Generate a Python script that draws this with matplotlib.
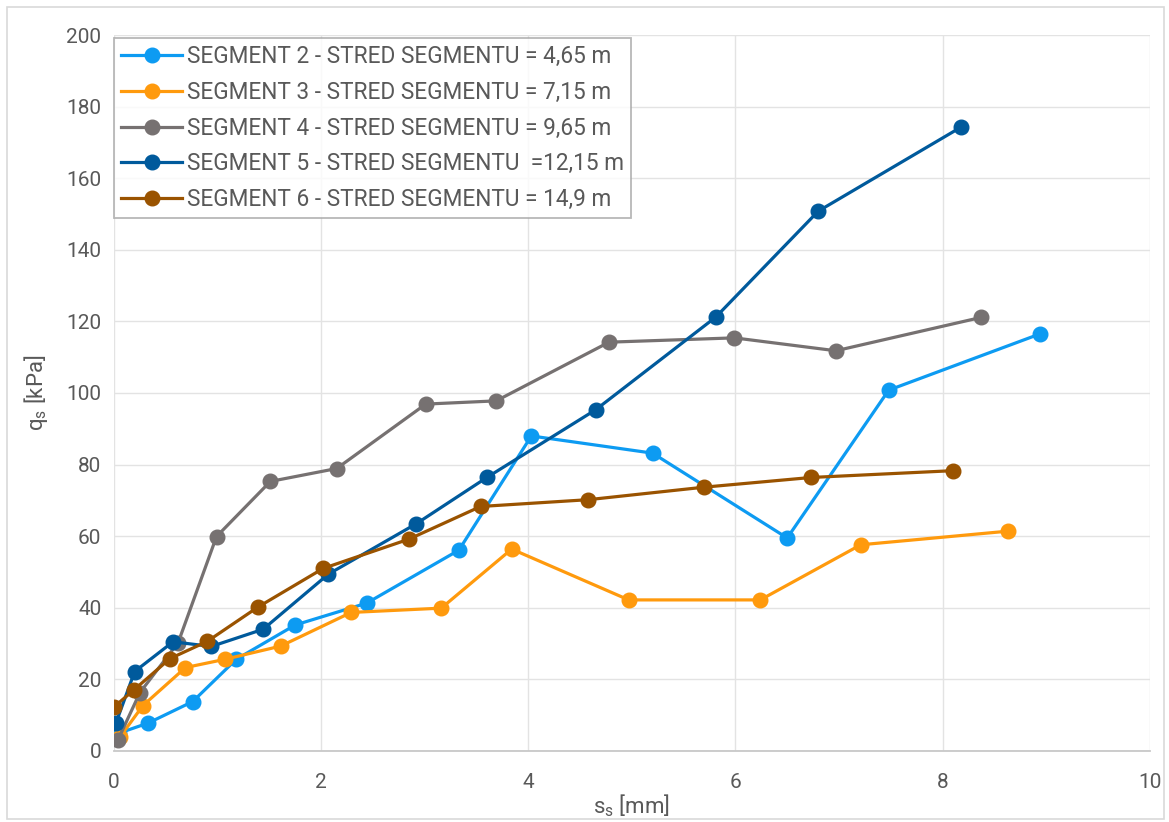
import matplotlib.pyplot as plt
from matplotlib.patches import Rectangle

# displacement s_s [mm] and shaft friction q_s [kPa] per segment
seg2_s = [0.05, 0.33, 0.76, 1.18, 1.75, 2.44, 3.33, 4.03, 5.20, 6.50, 7.48, 8.94]
seg2_q = [5.0, 7.8, 13.8, 25.6, 35.2, 41.3, 56.1, 88.0, 83.2, 59.5, 100.8, 116.5]

seg3_s = [0.06, 0.28, 0.69, 1.07, 1.61, 2.29, 3.16, 3.84, 4.97, 6.24, 7.21, 8.63]
seg3_q = [4.0, 12.7, 23.3, 25.6, 29.3, 38.7, 39.9, 56.4, 42.2, 42.2, 57.6, 61.4]

seg4_s = [0.04, 0.25, 0.62, 0.99, 1.51, 2.15, 3.01, 3.69, 4.78, 5.99, 6.97, 8.37]
seg4_q = [3.2, 16.3, 30.3, 59.9, 75.3, 78.9, 96.9, 97.8, 114.2, 115.4, 111.8, 121.1]

seg5_s = [0.02, 0.20, 0.57, 0.94, 1.44, 2.07, 2.92, 3.60, 4.65, 5.81, 6.80, 8.18]
seg5_q = [7.9, 22.2, 30.5, 29.2, 34.0, 49.4, 63.5, 76.4, 95.3, 121.2, 150.8, 174.3]

seg6_s = [0.00, 0.19, 0.54, 0.90, 1.39, 2.02, 2.85, 3.54, 4.58, 5.70, 6.73, 8.10]
seg6_q = [12.3, 17.0, 25.8, 30.6, 40.2, 51.0, 59.2, 68.3, 70.2, 73.7, 76.4, 78.3]

labels = [
    "SEGMENT 2 - STRED SEGMENTU = 4,65 m",
    "SEGMENT 3 - STRED SEGMENTU = 7,15 m",
    "SEGMENT 4 - STRED SEGMENTU = 9,65 m",
    "SEGMENT 5 - STRED SEGMENTU  =12,15 m",
    "SEGMENT 6 - STRED SEGMENTU = 14,9 m",
]
colors = ["#0D9BF2", "#FF9A0D", "#767171", "#005A9C", "#9A5300"]

plt.rcParams["font.family"] = ["Roboto", "DejaVu Sans"]
text_color = "#595959"

fig = plt.figure(figsize=(11.69, 8.22), dpi=100)
ax = fig.add_axes([0.0975, 0.0864, 0.886, 0.871])

series = [(seg2_s, seg2_q), (seg3_s, seg3_q), (seg4_s, seg4_q),
          (seg5_s, seg5_q), (seg6_s, seg6_q)]
for (s, q), lab, col in zip(series, labels, colors):
    ax.plot(s, q, color=col, lw=2.3, marker="o", ms=10.5, label=lab)

ax.set_xlim(0, 10)
ax.set_ylim(0, 200)
ax.set_xticks(range(0, 11, 2))
ax.set_yticks(range(0, 201, 20))
ax.grid(True, color="#e3e3e3", lw=1.0)
ax.set_axisbelow(True)
for side in ["top", "right", "left"]:
    ax.spines[side].set_visible(False)
ax.spines["bottom"].set_color("#c8c8c8")
ax.spines["bottom"].set_linewidth(1.3)
ax.tick_params(length=0, labelsize=15, colors=text_color)
ax.tick_params(axis="x", pad=16)
ax.tick_params(axis="y", pad=9)

ax.set_xlabel("s$_\\mathregular{s}$ [mm]", fontsize=16, color=text_color, labelpad=0)
ax.set_ylabel("q$_\\mathregular{s}$ [kPa]", fontsize=16, color=text_color, labelpad=12)

leg = ax.legend(loc="upper left", bbox_to_anchor=(0.0, 0.996), borderaxespad=0,
                fontsize=16.3, frameon=True, fancybox=False, handlelength=2.7,
                handletextpad=0.2, labelspacing=0.56, borderpad=0.32,
                labelcolor=text_color)
leg.get_frame().set_edgecolor("#a6a6a6")
leg.get_frame().set_linewidth(1.3)

fig.patches.append(Rectangle((0.006, 0.004), 0.99, 0.988, transform=fig.transFigure,
                             fill=False, edgecolor="#d9d9d9", lw=1.2))

fig.savefig("out.png", dpi=100)
